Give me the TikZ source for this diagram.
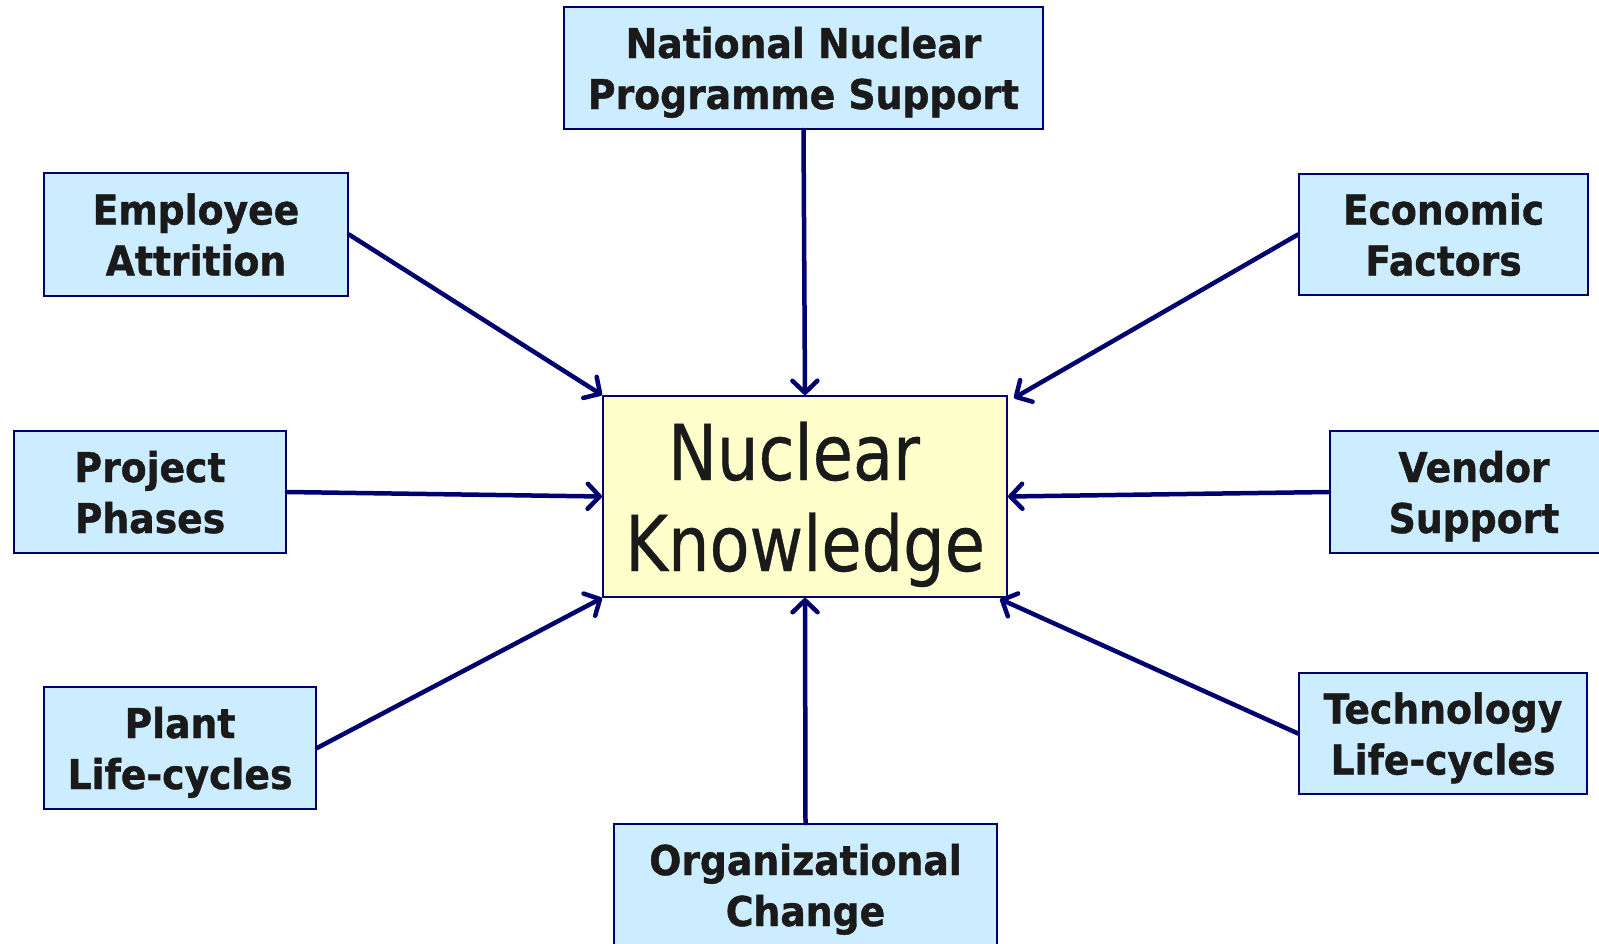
\documentclass[tikz,border=0pt]{standalone}
\usepackage{fontspec}
\usetikzlibrary{arrows.meta,calc}
\newfontfamily\bxfont{DejaVu Sans}[FakeStretch=0.92,BoldFeatures={FakeBold=1}]
\newfontfamily\kfont{DejaVu Sans}[FakeStretch=0.85,FakeBold=0.5]
\definecolor{navy}{RGB}{0,0,110}
\definecolor{bxblue}{RGB}{204,236,255}
\definecolor{bxyel}{RGB}{255,255,204}
\definecolor{txt}{RGB}{26,26,26}
\newcommand\twol[2]{\rule{0pt}{43pt}#1\\#2\rule[-12pt]{0pt}{12pt}}
\newcommand\twok[2]{\rule{0pt}{78pt}#1\\#2\rule[-20pt]{0pt}{20pt}}
\begin{document}
\begin{tikzpicture}[x=1pt,y=-1pt,
  box/.style={draw=navy, line width=2pt, fill=bxblue, inner sep=0pt, align=center, text=txt,
    font=\bxfont\bfseries\fontsize{41}{51}\selectfont},
  core/.style={draw=navy, line width=2pt, fill=bxyel, inner sep=0pt, align=center, text=txt,
    font=\kfont\fontsize{77}{91}\selectfont},
  arr/.style={draw=navy, line width=4.5pt, line cap=round, line join=round,
    -{Straight Barb[length=12pt,width=25pt,round]}}]
\useasboundingbox (0,0) rectangle (1599,943);

\node[core, minimum width=404pt, minimum height=201pt] (K) at (805,496.5) {\twok{Nuclear\hspace*{22pt}}{Knowledge}};

\node[box, minimum width=479pt, minimum height=122pt] (nat) at (803.5,68) {\twol{National Nuclear}{Programme Support}};
\node[box, minimum width=304pt, minimum height=123pt] (emp) at (196,234.5) {\twol{Employee}{Attrition}};
\node[box, minimum width=289pt, minimum height=121pt] (eco) at (1443.5,234.5) {\twol{Economic}{Factors}};
\node[box, minimum width=272pt, minimum height=122pt] (proj) at (150,492) {\twol{Project}{Phases}};
\node[box, minimum width=288pt, minimum height=122pt] (vend) at (1474,492) {\twol{Vendor}{Support}};
\node[box, minimum width=272pt, minimum height=122pt] (plant) at (180,748) {\twol{Plant}{Life-cycles}};
\node[box, minimum width=288pt, minimum height=121pt] (tech) at (1443,733.5) {\twol{Technology}{Life-cycles}};
\node[box, minimum width=383pt, minimum height=122pt] (org) at (805.5,885) {\twol{Organizational}{Change}};

\draw[arr] (nat.south) -- (K.north);
\draw[arr] (emp.east) -- (K.north west);
\draw[arr] (eco.west) -- ($(K.north east)+(6,3)$);
\draw[arr] (proj.east) -- (K.west);
\draw[arr] (vend.west) -- (K.east);
\draw[arr] (plant.east) -- (K.south west);
\draw[arr] (tech.west) -- ($(K.south east)+(-8,1)$);
\draw[arr] (org.north) -- (K.south);
\end{tikzpicture}
\end{document}
